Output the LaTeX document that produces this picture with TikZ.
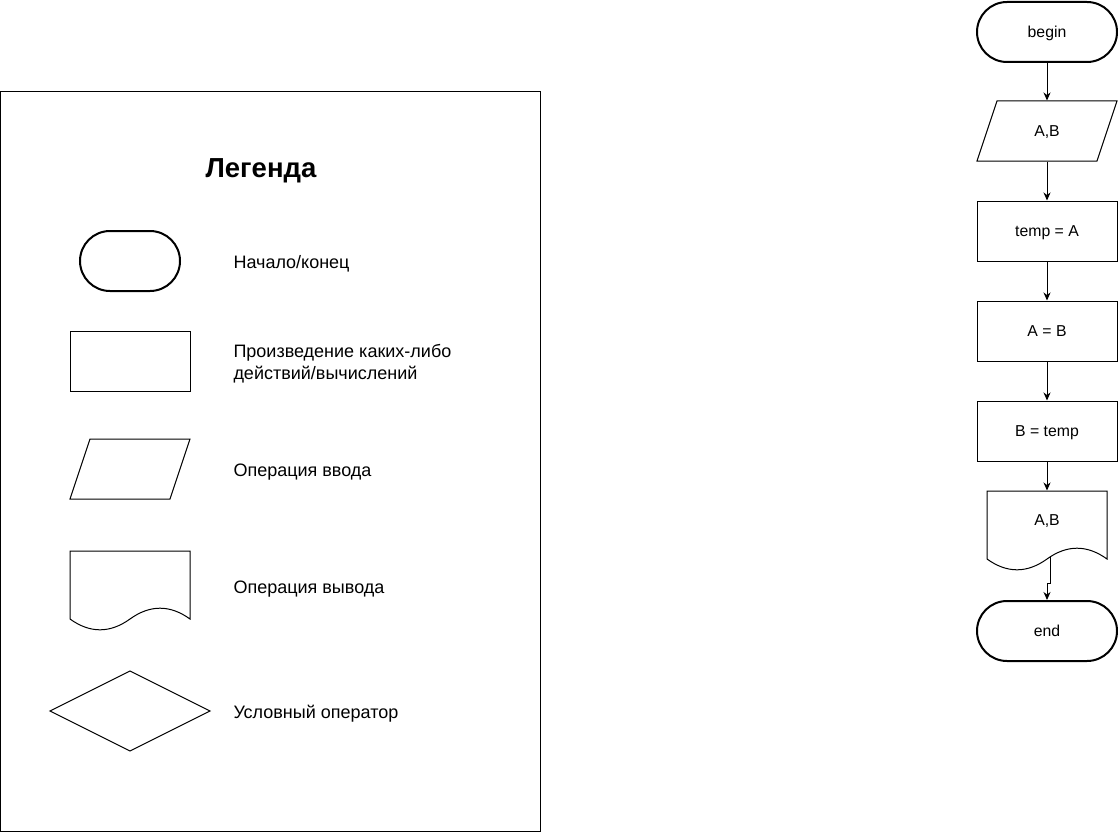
\documentclass[tikz,border=0pt]{standalone}
\usepackage{fontspec}
\setmainfont{Liberation Sans}
\usetikzlibrary{arrows.meta}
\tikzset{
  term/.style={draw=black, line width=2pt, rounded corners=30pt, minimum width=140pt, minimum height=60pt, inner sep=0pt, text height=11.3pt, text depth=0pt, font=\fontsize{15.8}{18}\selectfont},
  proc/.style={draw=black, line width=1pt, minimum width=140pt, minimum height=60pt, inner sep=0pt, text height=11.3pt, text depth=0pt, font=\fontsize{15.8}{18}\selectfont},
  plain/.style={minimum width=140pt, minimum height=60pt, inner sep=0pt, text height=11.3pt, text depth=0pt, font=\fontsize{15.8}{18}\selectfont},
  flow/.style={-{Stealth[length=8pt,width=7pt,inset=2.5pt]}, line width=1pt},
  legtext/.style={anchor=west, inner sep=0pt, align=left, yshift=-2pt, font=\fontsize{18}{22}\selectfont}
}

\begin{document}
\begin{tikzpicture}[x=1pt, y=-1pt, line width=1pt]
\useasboundingbox[fill=white] (0,0) rectangle (1118,832);

% legend
\draw (0.5,91.5) rectangle (540,831);
\node[font=\fontsize{27.5}{32}\selectfont\bfseries] (title) at (261,171) {Легенда};

\node[term, minimum width=100pt] (lterm) at (130,261) {};
\node[legtext] (lterm text) at (233,262) {Начало/конец};

\node[proc, minimum width=120pt] (lproc) at (130,361) {};
\node[legtext] (lproc text) at (233,362) {Произведение каких-либо\\действий/вычислений};

\draw (90,439) -- (190,439) -- (170,499) -- (70,499) -- cycle;
\node[legtext] (lin text) at (233,470) {Операция ввода};

\draw (70,551) -- (190,551) -- (190,619) .. controls (170,604.6) and (150,604.6) .. (130,619)
      .. controls (110,633.4) and (90,633.4) .. (70,619) -- cycle;
\node[legtext] (lout text) at (233,587) {Операция вывода};

\draw (130,671) -- (210,711) -- (130,751) -- (50,711) -- cycle;
\node[legtext] (lcond text) at (233,712) {Условный оператор};

% flowchart
\node[term] (begin) at (1047,32) {begin};

\draw (997,101) -- (1117,101) -- (1097,161) -- (977,161) -- cycle;
\node[plain] (in) at (1047,131) {A,B};

\node[proc] (t1) at (1047,231) {temp = A};
\node[proc] (t2) at (1047,331) {A = B};
\node[proc] (t3) at (1047,431) {B = temp};

\draw (987,491) -- (1107,491) -- (1107,559) .. controls (1087,544.6) and (1067,544.6) .. (1047,559)
      .. controls (1027,573.4) and (1007,573.4) .. (987,559) -- cycle;
\node[plain, minimum width=120pt, minimum height=58pt] (out) at (1047,520) {A,B};

\node[term] (end) at (1047,631) {end};

\coordinate (docout) at (1050,556);
\coordinate (bend) at (1050,583);

\draw[flow] (begin) -- (in);
\draw[flow] (in) -- (t1);
\draw[flow] (t1) -- (t2);
\draw[flow] (t2) -- (t3);
\draw[flow] (t3) -- (out);
\draw[flow] (docout) -- (bend) -| (end.north);
\end{tikzpicture}
\end{document}
